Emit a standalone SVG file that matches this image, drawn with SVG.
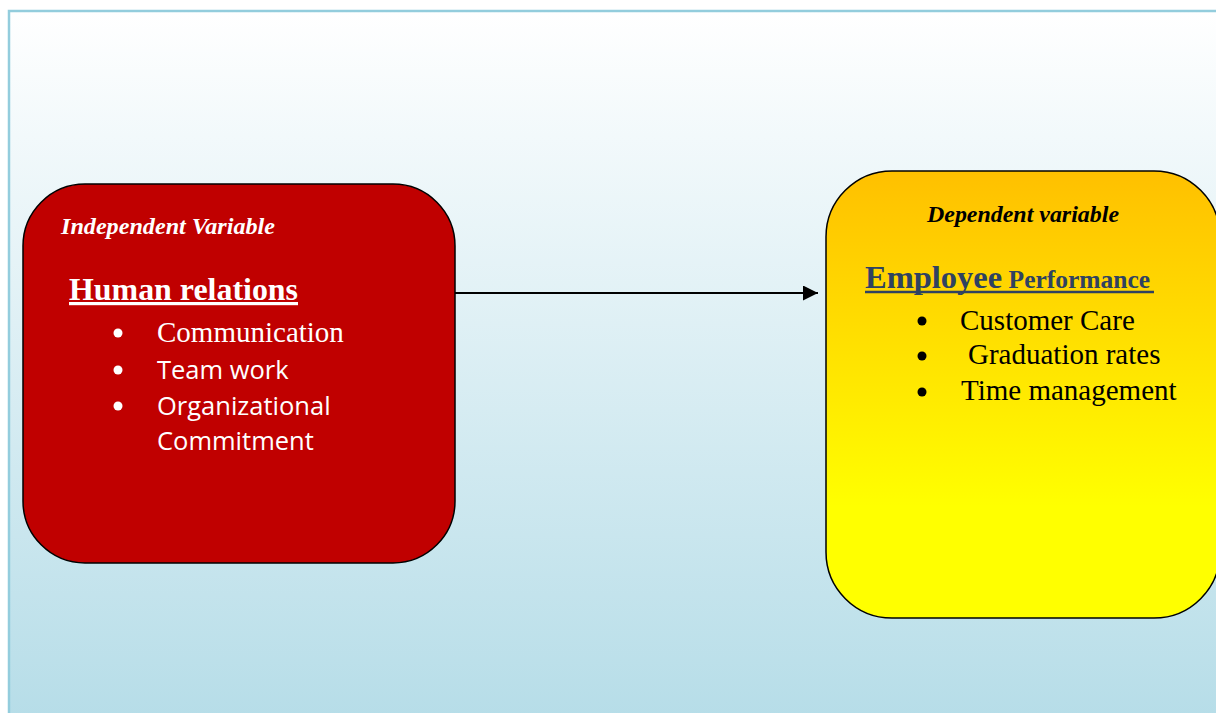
<svg xmlns="http://www.w3.org/2000/svg" width="1216" height="713" viewBox="0 0 1216 713">
  <defs>
    <linearGradient id="bg" x1="0" y1="0" x2="0" y2="1">
      <stop offset="0" stop-color="#FFFFFF"/>
      <stop offset="1" stop-color="#B6DDE8"/>
    </linearGradient>
    <linearGradient id="yel" x1="0" y1="0" x2="0" y2="1">
      <stop offset="0" stop-color="#FFC000"/>
      <stop offset="0.75" stop-color="#FFFF00"/>
      <stop offset="1" stop-color="#FFFF00"/>
    </linearGradient>
    <marker id="ah" viewBox="0 0 10 10" refX="10" refY="5" markerWidth="15" markerHeight="15" markerUnits="userSpaceOnUse" orient="auto">
      <path d="M0,0 L10,5 L0,10 z" fill="#000"/>
    </marker>
  </defs>
  <style>
    .box { stroke: #000; stroke-width: 1.5; }
    .it { font-family: "Liberation Serif", serif; font-weight: bold; font-style: italic; font-size: 24px; }
    .serif { font-family: "Liberation Serif", serif; font-size: 29px; }
    .sans { font-family: "Open Sans", "Liberation Sans", sans-serif; font-size: 25.5px; }
  </style>
  <rect x="9" y="11" width="1212" height="710" fill="url(#bg)" stroke="#93CDDD" stroke-width="2.5"/>

  <g id="connectors">
    <line x1="455" y1="293" x2="818" y2="293" stroke="#000" stroke-width="2" marker-end="url(#ah)"/>
  </g>

  <g id="independent">
    <rect class="box" x="23" y="184" width="432" height="379" rx="62" fill="#C00000"/>
    <text class="it" x="61" y="234" fill="#FFFFFF" textLength="214" lengthAdjust="spacingAndGlyphs">Independent Variable</text>
    <text x="69" y="300" fill="#FFFFFF" font-family="Liberation Serif, serif" font-weight="bold" font-size="32" text-decoration="underline" textLength="229" lengthAdjust="spacingAndGlyphs">Human relations</text>
    <g fill="#FFFFFF">
      <circle cx="118" cy="333" r="4.5"/>
      <circle cx="118" cy="370" r="4.5"/>
      <circle cx="118" cy="406" r="4.5"/>
    </g>
    <text class="serif" x="157" y="342" fill="#FFFFFF">Communication</text>
    <text class="sans" x="157" y="379" fill="#FFFFFF">Team work</text>
    <text class="sans" x="157" y="415" fill="#FFFFFF">Organizational</text>
    <text class="sans" x="157" y="450" fill="#FFFFFF">Commitment</text>
  </g>

  <g id="dependent">
    <rect class="box" x="826" y="171" width="394" height="447" rx="66" fill="url(#yel)"/>
    <text class="it" x="927" y="222" fill="#000" textLength="192" lengthAdjust="spacingAndGlyphs">Dependent variable</text>
    <text x="865" y="288" fill="#2F4261" font-family="Liberation Serif, serif" font-weight="bold"><tspan font-size="32.5">Employee</tspan><tspan font-size="25.5"> Performance</tspan></text>
    <line x1="865" y1="292" x2="1154" y2="292" stroke="#2F4261" stroke-width="2.5"/>
    <g fill="#000">
      <circle cx="922" cy="321" r="4.5"/>
      <circle cx="922" cy="356" r="4.5"/>
      <circle cx="922" cy="392" r="4.5"/>
    </g>
    <text class="serif" x="960" y="330" fill="#000">Customer Care</text>
    <text class="serif" x="968" y="364" fill="#000">Graduation rates</text>
    <text class="serif" x="961" y="400" fill="#000">Time management</text>
  </g>
</svg>
